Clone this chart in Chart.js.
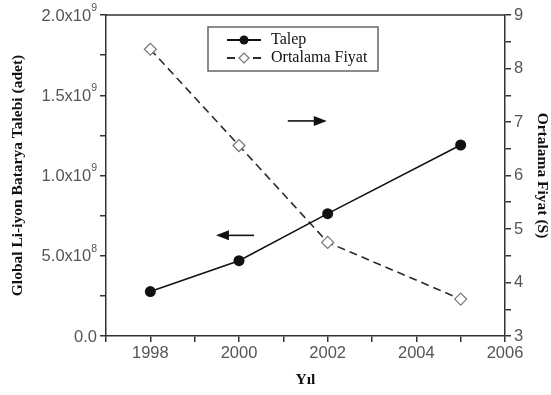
<!DOCTYPE html>
<html>
<head>
<meta charset="utf-8">
<script src="https://cdn.jsdelivr.net/npm/chart.js@4.4.1/dist/chart.umd.min.js"></script>
<style>
  body { margin: 0; background: #fff; }
  #wrap { width: 551px; height: 395px; }
</style>
</head>
<body>
<div id="wrap"><canvas id="graph" width="551" height="395"></canvas></div>
<script>
// values
const years = [1998, 2000, 2002, 2005];
const talep = [0.277e9, 0.469e9, 0.762e9, 1.19e9];   // adet, left axis
const fiyat = [8.36, 6.56, 4.75, 3.69];              // $, right axis
const xTitle = 'Yıl';
const leftTitle = 'Global Li-iyon Batarya Talebi (adet)';
const rightTitle = 'Ortalama Fiyat (S)';
const seriesNames = ['Talep', 'Ortalama Fiyat'];

// "2.0x10^9" -> ['2.0x10', '9']
function sciParts(v) {
  if (v % 0.5e9 !== 0) return null;
  if (v === 0) return ['0.0', ''];
  const e = Math.floor(Math.log10(v));
  const m = v / Math.pow(10, e);
  return [m.toFixed(1) + 'x10', String(e)];
}

const sansFam = 'Liberation Sans, Arial, sans-serif';
const serifFam = 'Liberation Serif, Times New Roman, serif';
const tickFont = { family: sansFam, size: 16.5 };
const titleFont = { family: serifFam, size: 15.5, weight: 'bold' };
const axisCol = '#333';
const tickCol = '#555';

// frame top line, left tick labels with raised exponent, arrows, legend box
const extras = {
  id: 'extras',
  afterDraw(chart) {
    const ctx = chart.ctx;
    const a = chart.chartArea;
    const x = chart.scales.x, yl = chart.scales.y, yr = chart.scales.y1;
    ctx.save();
    ctx.strokeStyle = axisCol;
    ctx.lineWidth = 1.5;
    ctx.beginPath();
    ctx.moveTo(a.left, a.top); ctx.lineTo(a.right, a.top);
    ctx.stroke();

    // left labels
    ctx.fillStyle = tickCol;
    ctx.textBaseline = 'middle';
    yl.ticks.forEach(t => {
      const p = sciParts(t.value);
      if (!p) return;
      const py = yl.getPixelForValue(t.value);
      const right = a.left - 9;
      ctx.font = '10.5px ' + sansFam;
      const ew = p[1] ? ctx.measureText(p[1]).width : 0;
      ctx.textAlign = 'right';
      if (p[1]) ctx.fillText(p[1], right, py - 7);
      ctx.font = tickFont.size + 'px ' + sansFam;
      ctx.fillText(p[0], right - ew, py + 1);
    });

    function arrow(x0, x1, y) {
      ctx.strokeStyle = '#111';
      ctx.fillStyle = '#111';
      ctx.lineWidth = 1.6;
      const dir = Math.sign(x1 - x0);
      ctx.beginPath();
      ctx.moveTo(x0, y); ctx.lineTo(x1 - dir * 10, y);
      ctx.stroke();
      ctx.beginPath();
      ctx.moveTo(x1, y);
      ctx.lineTo(x1 - dir * 13, y - 5);
      ctx.lineTo(x1 - dir * 13, y + 5);
      ctx.closePath();
      ctx.fill();
    }
    arrow(x.getPixelForValue(2001.1), x.getPixelForValue(2001.98), yr.getPixelForValue(7.02));
    arrow(x.getPixelForValue(2000.34), x.getPixelForValue(1999.48), yl.getPixelForValue(0.627e9));

    // legend
    const bx = 208, by = 27, bw = 170, bh = 44;
    ctx.fillStyle = '#fff';
    ctx.fillRect(bx, by, bw, bh);
    ctx.strokeStyle = '#666';
    ctx.lineWidth = 1.5;
    ctx.strokeRect(bx, by, bw, bh);
    const rows = [by + 13, by + 31];
    chart.data.datasets.forEach((ds, i) => {
      const ry = rows[i];
      ctx.strokeStyle = ds.borderColor;
      ctx.lineWidth = 2;
      ctx.beginPath();
      if (ds.borderDash) {
        ctx.moveTo(227, ry); ctx.lineTo(235, ry);
        ctx.moveTo(253, ry); ctx.lineTo(261, ry);
      } else {
        ctx.moveTo(227, ry); ctx.lineTo(261, ry);
      }
      ctx.stroke();
      ctx.beginPath();
      if (ds.pointStyle === 'rectRot') {
        const r = 5;
        ctx.moveTo(244, ry - r); ctx.lineTo(244 + r, ry);
        ctx.lineTo(244, ry + r); ctx.lineTo(244 - r, ry);
        ctx.closePath();
        ctx.fillStyle = '#fff';
        ctx.fill();
        ctx.strokeStyle = ds.pointBorderColor;
        ctx.lineWidth = 1.2;
        ctx.stroke();
      } else {
        ctx.arc(244, ry, 4.5, 0, Math.PI * 2);
        ctx.fillStyle = ds.pointBackgroundColor;
        ctx.fill();
      }
      ctx.fillStyle = '#111';
      ctx.font = '16px ' + serifFam;
      ctx.textBaseline = 'middle';
      ctx.textAlign = 'left';
      ctx.fillText(ds.label, 271, ry);
    });
    ctx.restore();
  }
};

new Chart(document.getElementById('graph'), {
  type: 'line',
  data: {
    datasets: [
      {
        label: seriesNames[0],
        data: years.map((y, i) => ({ x: y, y: talep[i] })),
        yAxisID: 'y',
        borderColor: '#111',
        borderWidth: 1.5,
        pointStyle: 'circle',
        pointRadius: 5.5,
        pointBackgroundColor: '#111',
        pointBorderColor: '#111',
        pointBorderWidth: 0
      },
      {
        label: seriesNames[1],
        data: years.map((y, i) => ({ x: y, y: fiyat[i] })),
        yAxisID: 'y1',
        borderColor: '#2a2a2a',
        borderWidth: 1.6,
        borderDash: [8, 5],
        pointStyle: 'rectRot',
        pointRadius: 6,
        pointBackgroundColor: '#fff',
        pointBorderColor: '#777',
        pointBorderWidth: 1.2
      }
    ]
  },
  options: {
    responsive: false,
    animation: false,
    devicePixelRatio: 1,
    layout: { padding: { top: 15, left: 0, right: 0, bottom: 0 } },
    plugins: { legend: { display: false }, tooltip: { enabled: false } },
    scales: {
      x: {
        type: 'linear',
        min: 1997, max: 2006,
        afterFit(s) { s.height = 59; },
        ticks: {
          stepSize: 1, autoSkip: false, maxRotation: 0, padding: 2,
          color: tickCol, font: tickFont,
          callback: v => (v % 2 === 0 ? String(v) : '')
        },
        grid: { drawOnChartArea: false, tickLength: 6, color: axisCol, lineWidth: 1.5 },
        border: { color: axisCol, width: 1.5 },
        title: { display: true, text: xTitle, color: '#111', font: titleFont, padding: { top: 0, bottom: 6 } }
      },
      y: {
        position: 'left',
        min: 0, max: 2e9,
        afterFit(s) { s.width = 106; },
        ticks: {
          stepSize: 0.25e9, autoSkip: false, padding: 3,
          color: 'rgba(0,0,0,0)', font: tickFont,
          callback: v => { const p = sciParts(v); return p ? p[0] + p[1] : ''; }
        },
        grid: { drawOnChartArea: false, tickLength: 6, color: axisCol, lineWidth: 1.5 },
        border: { color: axisCol, width: 1.5 },
        title: { display: true, text: leftTitle, color: '#111', font: titleFont, padding: { top: 9, bottom: 0 } }
      },
      y1: {
        position: 'right',
        min: 3, max: 9,
        afterFit(s) { s.width = 46; },
        ticks: {
          stepSize: 0.5, autoSkip: false, padding: 3,
          color: tickCol, font: tickFont,
          callback: v => (Number.isInteger(v) ? String(v) : '')
        },
        grid: { drawOnChartArea: false, tickLength: 6, color: axisCol, lineWidth: 1.5 },
        border: { color: axisCol, width: 1.5 },
        title: { display: true, text: rightTitle, color: '#111', font: titleFont, padding: { top: 0, bottom: 0 } }
      }
    }
  },
  plugins: [extras]
});
</script>
</body>
</html>
